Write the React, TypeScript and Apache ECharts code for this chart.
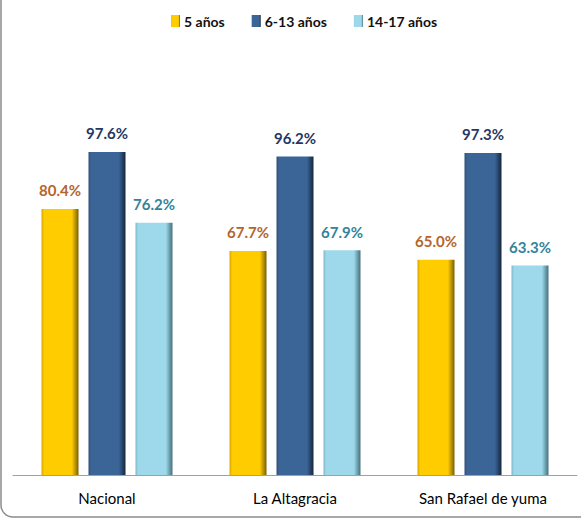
import React, { useEffect, useRef } from "react";
import * as echarts from "echarts";

const categories = ["Nacional", "La Altagracia", "San Rafael de yuma"];
const seriesNames = ["5 años", "6-13 años", "14-17 años"];
const values5 = [80.4, 67.7, 65.0];
const values613 = [97.6, 96.2, 97.3];
const values1417 = [76.2, 67.9, 63.3];

const FONT = "Lato, 'Open Sans', sans-serif";

function barGrad(edge: string, mid: string, dark: string) {
  return new echarts.graphic.LinearGradient(0, 0, 1, 0, [
    { offset: 0, color: edge },
    { offset: 0.07, color: mid },
    { offset: 0.82, color: mid },
    { offset: 1, color: dark },
  ]);
}

export default function App() {
  const ref = useRef<HTMLDivElement>(null);
  useEffect(() => {
    document.body.style.margin = "0";
    const chart = echarts.init(ref.current!, null, { renderer: "svg" });
    const mk = (name: string, data: number[], c: [string, string, string], labelColor: string) => ({
      name,
      type: "bar",
      data,
      barWidth: 37,
      barGap: "27%",
      itemStyle: { color: barGrad(c[0], c[1], c[2]) },
      label: {
        show: true,
        position: "top",
        distance: 11,
        formatter: (p: any) => p.value.toFixed(1) + "%",
        color: labelColor,
        fontFamily: FONT,
        fontWeight: "bold",
        fontSize: 15,
      },
    });
    chart.setOption({
      animation: false,
      backgroundColor: "#fff",
      graphic: [
        {
          type: "rect",
          shape: { x: 1, y: -30, width: 700, height: 547, r: 12 },
          style: { fill: "none", stroke: "#8c8c8c", lineWidth: 1.5 },
          silent: true,
          z: 0,
        },
      ],
      legend: {
        top: 9,
        left: 166,
        itemWidth: 9,
        itemHeight: 12,
        itemGap: 27,
        icon: "rect",
        data: seriesNames,
        textStyle: { fontFamily: FONT, fontSize: 14, fontWeight: "bold", color: "#111", padding: [0, 0, 0, -1] },
      },
      grid: { left: 13, width: 564, top: 144, bottom: 44, containLabel: false },
      xAxis: {
        type: "category",
        data: categories,
        axisLine: { lineStyle: { color: "#a0a0a0", width: 1 } },
        axisTick: { show: false },
        axisLabel: { interval: 0, fontFamily: FONT, fontSize: 15, color: "#000", margin: 15 },
      },
      yAxis: {
        type: "value",
        min: 0,
        max: 100,
        show: false,
        splitLine: { show: false },
      },
      series: [
        mk(seriesNames[0], values5, ["#d9a400", "#FFCC00", "#7a5f00"], "#B5652B"),
        mk(seriesNames[1], values613, ["#2e5078", "#3B6497", "#14263d"], "#1F3864"),
        mk(seriesNames[2], values1417, ["#7fb6c6", "#9DD9EA", "#44707c"], "#31849B"),
      ],
    });
    return () => chart.dispose();
  }, []);
  return <div ref={ref} style={{ width: 581, height: 519 }} />;
}
